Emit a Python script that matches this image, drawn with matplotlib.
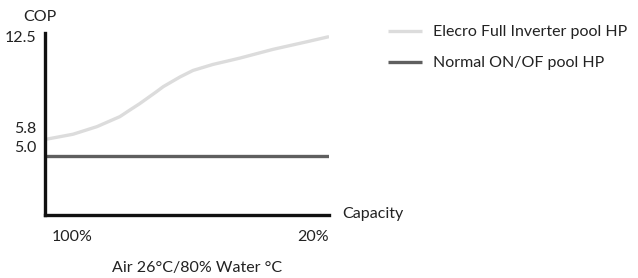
import numpy as np
import matplotlib.pyplot as plt
import matplotlib.transforms as mtransforms

plt.rcParams['font.family'] = ['Lato', 'DejaVu Sans']

# capacity (%) and COP
capacity = [100, 92.1, 85.35, 78.9, 76.06, 73.24, 68.54, 66.68, 61.97, 58.31, 52.68, 47.89, 45.07, 35.77, 26.2, 20]
cop_inverter = [6.04, 6.37, 6.85, 7.48, 7.9, 8.31, 9.06, 9.37, 9.98, 10.39, 10.77, 11.02, 11.17, 11.72, 12.2, 12.52]
cop_normal = [5.0] * len(capacity)

y_ticks = [5.0, 5.8, 12.5]
y_labels = ['5.0', '5.8', '12.5']
x_ticks = [100, 20]
x_labels = ['100%', '20%']

fs = 11.5
txt = '#222222'

fig = plt.figure(figsize=(6.38, 2.78), dpi=100)
ax = fig.add_axes([0.0705, 0.2266, 0.4452, 0.6547])

ax.plot(capacity, cop_inverter, color='#dcdcdc', lw=2.4, solid_capstyle='butt',
        solid_joinstyle='round', label='Elecro Full Inverter pool HP')
ax.plot(capacity, cop_normal, color='#5f5f5f', lw=2.4, solid_capstyle='butt',
        label='Normal ON/OF pool HP')

ax.set_xlim(100, 20)
ax.set_ylim(1.28, 12.75)

for s in ['top', 'right']:
    ax.spines[s].set_visible(False)
for s in ['left', 'bottom']:
    ax.spines[s].set_linewidth(2.4)
    ax.spines[s].set_color('#111111')

ax.set_yticks(y_ticks)
ax.set_yticklabels(y_labels, fontsize=fs, color=txt)
ax.tick_params(axis='y', length=0, pad=6)
# schematic labels sit a bit above their lines
for lab, dy in zip(ax.get_yticklabels(), [7, 11.5, 0]):
    lab.set_transform(lab.get_transform() + mtransforms.ScaledTranslation(0, dy / 72, fig.dpi_scale_trans))

ax.set_xticks(x_ticks)
ax.set_xticklabels(x_labels, fontsize=fs, color=txt)
ax.tick_params(axis='x', length=0, pad=11)
xl = ax.get_xticklabels()
xl[0].set_ha('left')
xl[0].set_transform(xl[0].get_transform() + mtransforms.ScaledTranslation(5 / 72, 0, fig.dpi_scale_trans))
xl[1].set_ha('right')

fig.text(40 / 638, 1 - 17 / 278, 'COP', fontsize=fs, color=txt, ha='center', va='center')
fig.text(342 / 638, 1 - 214 / 278, 'Capacity', fontsize=fs, color=txt, ha='left', va='center')
fig.text(197 / 638, 1 - 268 / 278, 'Air 26°C/80% Water °C', fontsize=fs, color=txt, ha='center', va='center')

fig.legend(loc='upper left', bbox_to_anchor=(388 / 638, 1 - 25 / 278), frameon=False,
           fontsize=fs, handlelength=2.13, handletextpad=0.69, labelspacing=1.05,
           labelcolor=txt, borderpad=0, borderaxespad=0)

fig.savefig('out.png', dpi=100)
